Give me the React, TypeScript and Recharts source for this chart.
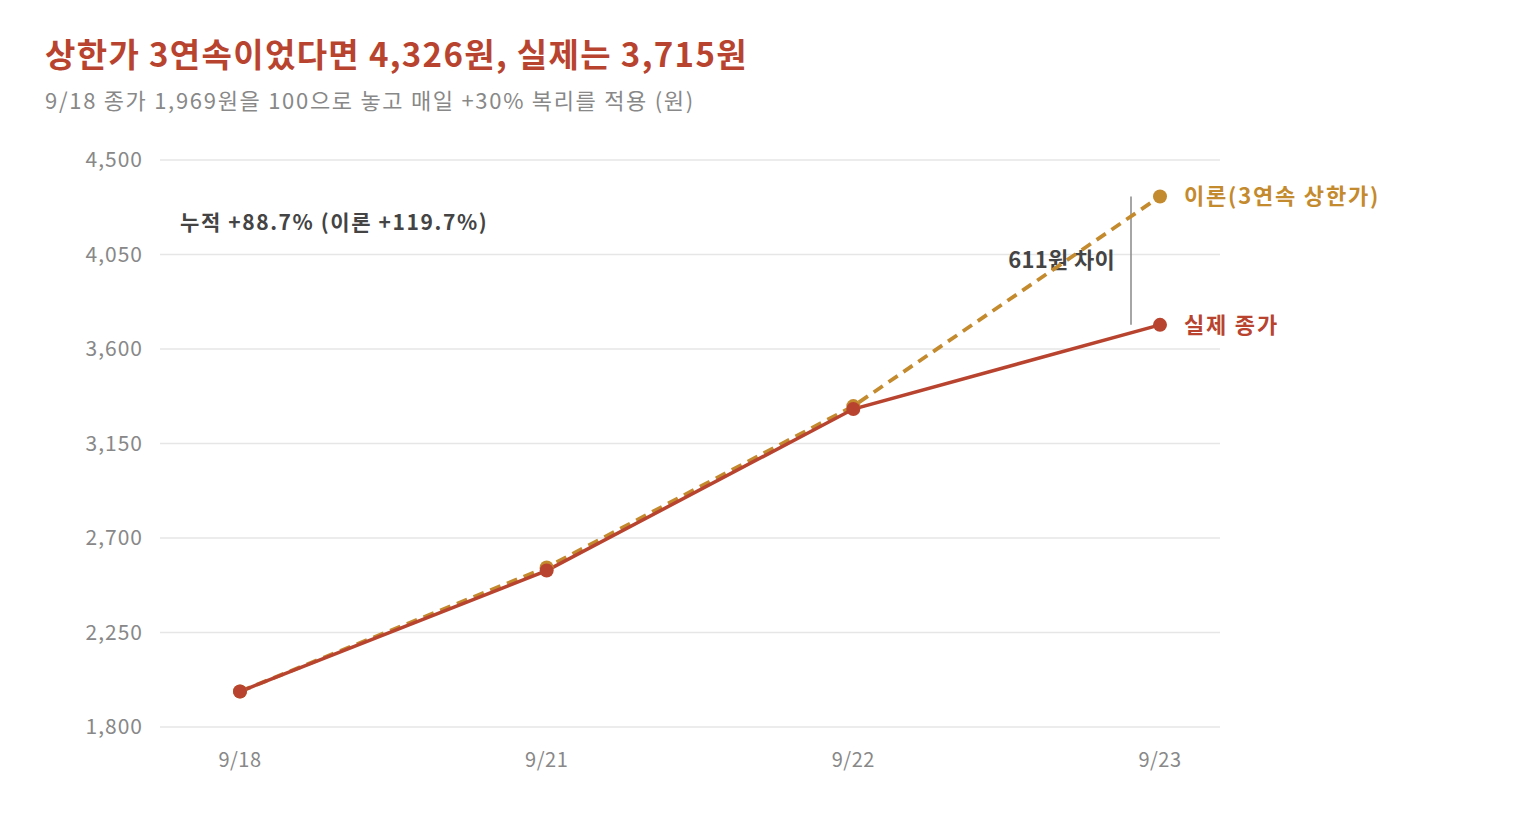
import { LineChart, Line, XAxis, YAxis, CartesianGrid, ReferenceLine } from 'recharts';

const dates = ['9/18', '9/21', '9/22', '9/23'];
const theory = [1969, 2560, 3328, 4326];
const actual = [1969, 2545, 3314, 3715];
const yTicks = [1800, 2250, 2700, 3150, 3600, 4050, 4500];

const RED = '#B8442F';
const GOLD = '#C48A2E';
const FONT = '"Noto Sans CJK KR", "Noto Sans", sans-serif';

const data = dates.map((d, i) => ({ date: d, theory: theory[i], actual: actual[i] }));

function endLabel(text: string, color: string) {
  return (props: any) => {
    if (props.index !== dates.length - 1) return null;
    return (
      <text
        x={props.x + 24}
        y={props.y}
        dy="0.35em"
        fill={color}
        fontSize={22}
        fontWeight={700}
        fontFamily={FONT}
        letterSpacing={1.8}
      >
        {text}
      </text>
    );
  };
}

function GapLine(props: any) {
  const x = props.x1 - 29;
  const midY = (props.y1 + props.y2) / 2;
  return (
    <g>
      <line x1={x} y1={props.y1} x2={x} y2={props.y2} stroke="#888" strokeWidth={1.5} />
      <text
        x={x - 16}
        y={midY}
        dy="0.35em"
        textAnchor="end"
        fill="#444"
        fontSize={22}
        fontWeight={700}
        fontFamily={FONT}
        letterSpacing={0.3}
      >
        611원 차이
      </text>
    </g>
  );
}

export default function App() {
  return (
    <div style={{ position: 'absolute', left: 0, top: 0, width: 1520, height: 820, background: '#fff', fontFamily: FONT }}>
      <div style={{ position: 'absolute', left: 45, top: 29, fontSize: 33, fontWeight: 700, color: RED, letterSpacing: 1.35, whiteSpace: 'nowrap' }}>
        상한가 3연속이었다면 4,326원, 실제는 3,715원
      </div>
      <div style={{ position: 'absolute', left: 45, top: 83, fontSize: 22, color: '#888', letterSpacing: 1.7, whiteSpace: 'nowrap' }}>
        9/18 종가 1,969원을 100으로 놓고 매일 +30% 복리를 적용 (원)
      </div>
      <div style={{ position: 'absolute', left: 180, top: 206, fontSize: 21, fontWeight: 700, color: '#444', letterSpacing: 1.6, whiteSpace: 'nowrap' }}>
        누적 +88.7% (이론 +119.7%)
      </div>
      <LineChart
        width={1520}
        height={820}
        data={data}
        margin={{ top: 160, right: 300, bottom: 63, left: 100 }}
      >
        <CartesianGrid vertical={false} stroke="#e6e6e6" strokeWidth={1.5} />
        <XAxis
          dataKey="date"
          axisLine={false}
          tickLine={false}
          tickSize={0}
          tickMargin={26}
          height={30}
          padding={{ left: 80, right: 60 }}
          tick={{ fill: '#888', fontSize: 20, fontFamily: FONT, letterSpacing: 0.5 }}
        />
        <YAxis
          domain={[1800, 4500]}
          ticks={yTicks}
          width={60}
          axisLine={false}
          tickLine={false}
          tickSize={0}
          tickMargin={17}
          tickFormatter={(v: number) => v.toLocaleString('en-US')}
          tick={{ fill: '#888', fontSize: 21, fontFamily: FONT, letterSpacing: 1 }}
        />
        <ReferenceLine
          segment={[{ x: '9/23', y: 4326 }, { x: '9/23', y: 3715 }]}
          stroke="#888"
          shape={GapLine}
        />
        <Line
          type="linear"
          dataKey="theory"
          stroke={GOLD}
          strokeWidth={3.8}
          strokeDasharray="11 7"
          dot={{ r: 7, fill: GOLD, stroke: GOLD, strokeWidth: 0 }}
          label={endLabel('이론(3연속 상한가)', GOLD)}
          isAnimationActive={false}
        />
        <Line
          type="linear"
          dataKey="actual"
          stroke={RED}
          strokeWidth={3.5}
          dot={{ r: 7, fill: RED, stroke: RED, strokeWidth: 0 }}
          label={endLabel('실제 종가', RED)}
          isAnimationActive={false}
        />
      </LineChart>
    </div>
  );
}
